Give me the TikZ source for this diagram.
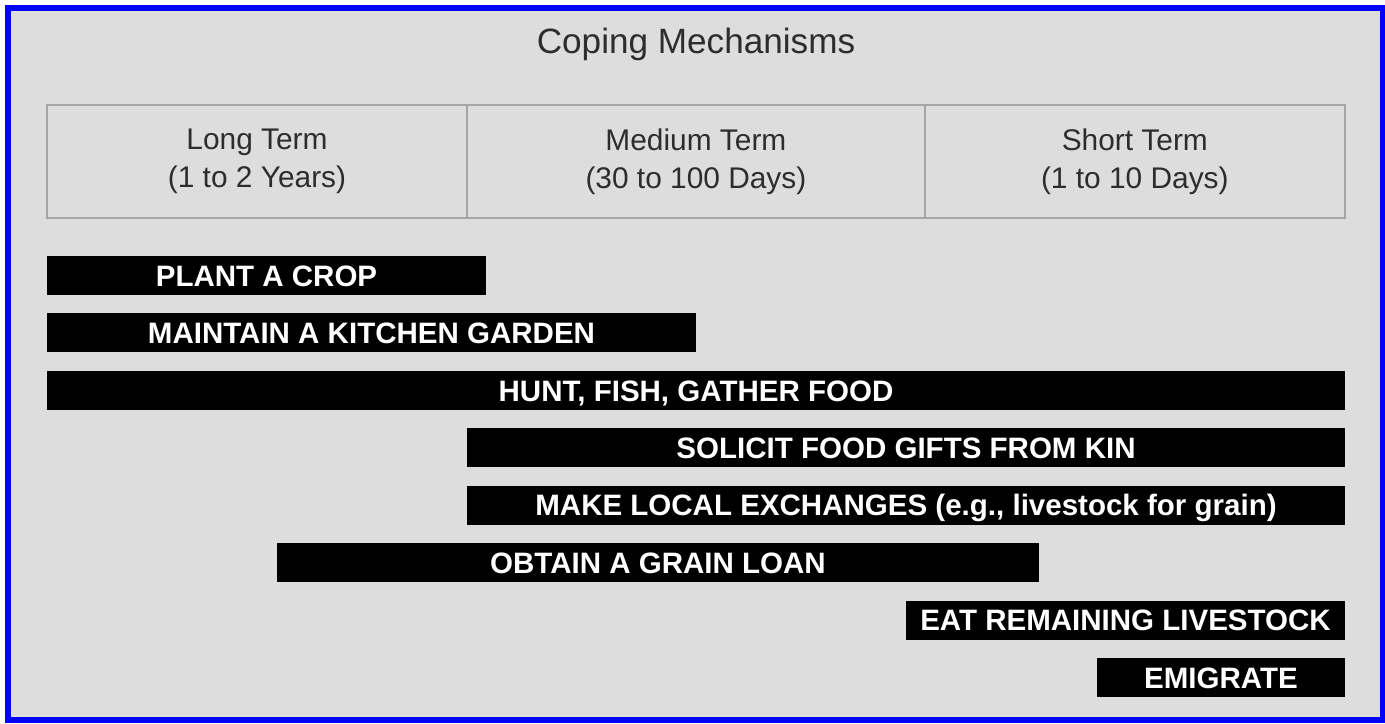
\documentclass[tikz,border=0pt]{standalone}
\usepackage{fontspec}
\setmainfont{Liberation Sans}
\usetikzlibrary{positioning,calc}

\definecolor{panelgrey}{RGB}{221,221,221}
\definecolor{frameblue}{RGB}{0,0,255}
\definecolor{linegrey}{RGB}{165,165,165}
\definecolor{textgrey}{RGB}{45,45,45}

\begin{document}
\begin{tikzpicture}[
    x=0.02cm, y=-0.02cm,
    cell/.style={draw=linegrey, line width=0.8pt, rectangle, minimum height=2.26cm, outer sep=0pt, inner sep=0pt, align=center, text=textgrey, font=\fontsize{17}{21.6}\selectfont},
    bar/.style={fill=black, rectangle, minimum height=0.78cm, inner sep=0pt, text=white, text height=12.2pt, text depth=0pt, font=\bfseries\fontsize{16.8}{20}\selectfont}
]
    \useasboundingbox (0,0) rectangle (1385,723);

    % Frame and panel
    \fill[white] (0,0) rectangle (1385,723);
    \fill[frameblue] (5,5) rectangle (1385,723);
    \fill[panelgrey] (11,11) rectangle (1380,717);

    % Title
    \node[text=textgrey, font=\fontsize{20}{24}\selectfont] (title) at (696,44) {Coping Mechanisms};

    % Time horizon cells
    \node[cell, minimum width=8.4cm] (longterm) at (257,161.5) {Long Term\\(1 to 2 Years)};
    \node[cell, minimum width=9.16cm, right=0pt of longterm] (medterm) {Medium Term\\(30 to 100 Days)};
    \node[cell, minimum width=8.4cm, right=0pt of medterm] (shortterm) {Short Term\\(1 to 10 Days)};

    % Mechanism bars
    \foreach \a/\b/\r/\t in {
        47/486/1/PLANT A CROP,
        47/696/2/MAINTAIN A KITCHEN GARDEN,
        47/1345/3/{HUNT, FISH, GATHER FOOD},
        467/1345/4/SOLICIT FOOD GIFTS FROM KIN,
        467/1345/5/{MAKE LOCAL EXCHANGES (e.g., livestock for grain)},
        277/1039/6/OBTAIN A GRAIN LOAN,
        906/1345/7/EAT REMAINING LIVESTOCK,
        1097/1345/8/EMIGRATE}{
        \pgfmathsetmacro\w{(\b-\a)*0.02}
        \pgfmathsetmacro\cx{(\a+\b)/2}
        \pgfmathsetmacro\cy{275.5+(\r-1)*57.43}
        \node[bar, minimum width=\w cm] (bar\r) at (\cx,\cy) {\t};
    }
\end{tikzpicture}
\end{document}
